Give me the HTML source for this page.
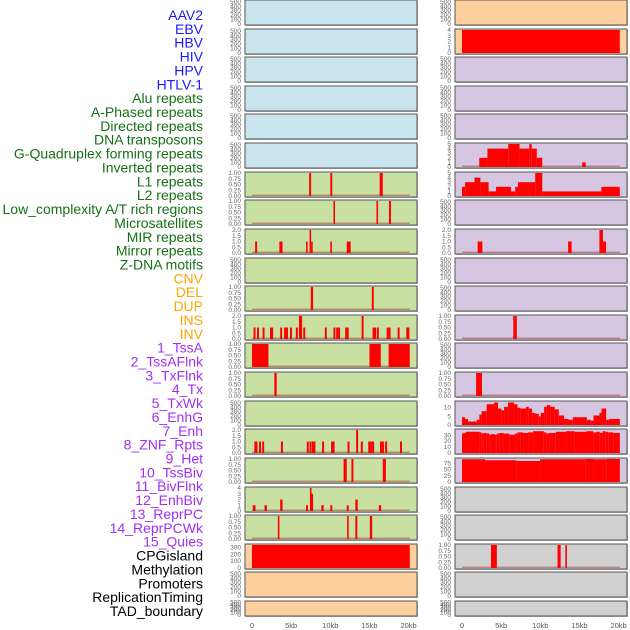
<!DOCTYPE html>
<html><head><meta charset="utf-8"><style>
html,body{margin:0;padding:0;background:#fff}
svg{display:block}
</style></head><body>
<svg id="chart" width="630" height="630" viewBox="0 0 630 630" xmlns="http://www.w3.org/2000/svg"></svg>
<script>
const labels = ["AAV2","EBV","HBV","HIV","HPV","HTLV-1","Alu repeats","A-Phased repeats","Directed repeats","DNA transposons","G-Quadruplex forming repeats","Inverted repeats","L1 repeats","L2 repeats","Low_complexity A/T rich regions","Microsatellites","MIR repeats","Mirror repeats","Z-DNA motifs","CNV","DEL","DUP","INS","INV","1_TssA","2_TssAFlnk","3_TxFlnk","4_Tx","5_TxWk","6_EnhG","7_Enh","8_ZNF_Rpts","9_Het","10_TssBiv","11_BivFlnk","12_EnhBiv","13_ReprPC","14_ReprPCWk","15_Quies","CPGisland","Methylation","Promoters","ReplicationTiming","TAD_boundary"];
const labelGroups = ["v","v","v","v","v","v","r","r","r","r","r","r","r","r","r","r","r","r","r","c","c","c","c","c","h","h","h","h","h","h","h","h","h","h","h","h","h","h","h","o","o","o","o","o"];
const xTickValues = [0,5,10,15,20];
const xTickLabels = ["0","5kb","10kb","15kb","20kb"];
const leftBg = ["b","b","b","b","b","b","g","g","g","g","g","g","g","g","g","g","g","g","g","o","o","o"];
const rightBg = ["o","o","p","p","p","p","p","p","p","p","p","p","p","p","p","p","p","e","e","e","e","e"];
const leftScale = ["E","E","E","E","E","E","U1","U1","U2","E","U1","U2","U1","U1","E","U2","U1","U4","U1","C","E","E"];
const rightScale = ["E","U4","E","E","E","U5","U5","E","U2","E","E","U1","E","U1","TX","ZN","TS","E","E","U1","E","E"];
// segments: [startKb, endKb, value]
const L6 = [[7.3,7.55,1],[10,10.25,1],[16.3,16.7,1]];
const L7 = [[10.4,10.6,1],[15.9,16.1,1],[17.5,17.75,1]];
const L8 = [[0.4,0.65,1],[3.5,3.9,1],[6.9,7.1,1],[7.35,7.55,2],[7.55,7.75,1],[10,10.2,1],[12.1,12.6,1]];
const L10 = [[7.5,7.8,1],[15.3,15.55,1]];
const L11starts = [0.2,0.65,1.35,2.3,2.45,3.6,4.1,4.35,4.85,5.6,6.0,6.15,6.55,9.3,10.4,10.75,11.0,11.9,12.1,14.0,15.4,15.6,15.95,17.2,17.45,18.6,19.7,19.85];
const L11values = [1,1,1,1,1,1,1,1,1,1,2,2,1,1,1,1,1,1,1,2,1,1,1,1,1,1,1,1];
const L12 = [[0,2.1,1],[15.0,16.45,1],[17.45,20.15,1]];
const L13 = [[2.85,3.15,1]];
const L15starts = [0.3,0.45,0.9,1.3,3.7,7.0,7.35,7.65,7.85,8.95,10.1,10.3,12.2,13.3,13.9,14.85,15.1,15.35,16.35,16.6,17.0,18.9];
const L15values = [1,1,1,1,1,1,1,1,1,1,1,1,1,2,1,1,1,1,1,1,1,1];
const L16 = [[11.7,12.1,1],[12.7,12.95,1],[16.7,17.1,1]];
const L17 = [[0.1,0.45,1],[1.6,1.9,1],[3.6,3.9,2],[6.9,7.15,1],[7.4,7.6,4],[7.6,7.8,3],[8.85,9.15,1],[10,10.25,1],[12.1,12.35,1],[13.2,13.5,2],[16.2,16.5,1]];
const L18 = [[3.3,3.5,1],[12.15,12.35,1],[13.2,13.45,1],[15.05,15.35,1]];
const L19 = [[0,20.15,340]];
const R1 = [[0,20.15,4]];
const R5 = [[2.2,3.25,2],[3.25,5.9,4],[5.9,7.35,5],[7.35,8.6,4],[8.6,8.9,5],[8.9,9.55,4],[9.55,10.25,2],[15.35,15.8,1]];
const R6 = [[0,0.4,2],[0.4,1.6,3],[1.6,2.35,4],[2.35,3.4,3],[3.4,4.35,1],[4.35,6.25,2],[6.25,6.8,1],[6.8,7.15,2],[7.15,9.35,3],[9.35,10.25,5],[10.25,17.8,1],[17.8,20.15,2]];
const R8 = [[2.0,2.6,1],[13.55,14.0,1],[17.55,18.0,2],[18.0,18.4,1]];
const R11 = [[6.55,7.0,1]];
const R13 = [[1.8,2.55,1]];
const R14edges = [0,0.38,0.77,1.88,2.22,2.51,3.15,4.09,4.6,5.03,5.37,5.88,6.65,7.08,7.5,8.18,8.53,8.95,9.38,9.8,10.06,10.49,10.83,11.25,11.85,12.36,13.04,13.64,14.15,15.94,16.45,16.79,17.56,17.82,18.41,18.76,20.16];
const R14values = [4.5,3.5,2,3,6,8,12,13,9.5,8.5,10.5,13,12,10,9.5,10.5,9.5,7,6.5,5,7,10.5,11.5,10.5,9,5.5,3.5,3,4.5,3,2.5,5.5,7,9.5,3,3.5];
const R15edges = [0,0.17,0.51,2.22,2.51,2.73,3.15,3.5,3.71,4.22,4.43,4.77,5.29,6.05,6.78,7.08,7.42,7.8,8.44,9.08,10.44,10.78,11.12,11.98,13.34,14.41,15.9,16.75,17.18,17.6,17.95,18.29,18.67,19.31,20.16];
const R15values = [33,34,36,35,33,34,33,31,32,31,33,34,33,31,33,35,35,34,35,37,35,33,34,36,37,36,37,35,36,34,37,36,35,34];
const R16edges = [0,2.94,6.99,9.97,15.73,16.79,18.5,20.16];
const R16values = [92,88,85,92,93,92,93];
const R19 = [[3.7,4.45,1],[12.2,12.6,1],[13.2,13.4,1]];

function toSegs(starts, vals, w){ return starts.map((s,i)=>[s,s+w,vals[i]]); }
function edgeSegs(edges, vals){ return vals.map((v,i)=>[edges[i],edges[i+1],v]); }
const leftData = {6:L6,7:L7,8:L8,10:L10,11:toSegs(L11starts,L11values,0.25),12:L12,13:L13,15:toSegs(L15starts,L15values,0.25),16:L16,17:L17,18:L18,19:L19};
const rightData = {1:R1,5:R5,6:R6,8:R8,11:R11,13:R13,14:edgeSegs(R14edges,R14values),15:edgeSegs(R15edges,R15values),16:edgeSegs(R16edges,R16values),19:R19};

const scales = {
 E:{max:520,ticks:[0,100,200,300,400,500],fmt:v=>String(v)},
 U1:{max:1,ticks:[0,0.25,0.5,0.75,1],fmt:v=>v.toFixed(2)},
 U2:{max:2,ticks:[0,0.5,1,1.5,2],fmt:v=>v.toFixed(1)},
 U4:{max:4,ticks:[0,1,2,3,4],fmt:v=>String(v)},
 U5:{max:5,ticks:[0,1,2,3,4,5],fmt:v=>String(v)},
 C:{max:340,ticks:[0,100,200,300],fmt:v=>String(v)},
 TX:{max:13.3,ticks:[0,5,10],fmt:v=>String(v)},
 ZN:{max:39,ticks:[0,10,20,30],fmt:v=>String(v)},
 TS:{max:93,ticks:[0,25,50,75],fmt:v=>String(v)}
};
const bgColors = {b:"#c9e4ec",g:"#c8e1a3",o:"#fdd09d",p:"#d6c6e2",e:"#d0d0d0"};
const labelColors = {v:"#1a1aff",r:"#167016",c:"#ffa500",h:"#a030f0",o:"#000000"};

const NS="http://www.w3.org/2000/svg";
const svg=document.getElementById("chart");
function mk(tag,attrs,parent){const e=document.createElementNS(NS,tag);for(const k in attrs)e.setAttribute(k,attrs[k]);(parent||svg).appendChild(e);return e;}

// labels
labels.forEach((t,i)=>{
  const e=mk("text",{x:203,y:(20+i*13.86).toFixed(1),"text-anchor":"end","font-family":"Liberation Sans, sans-serif","font-size":"14",fill:labelColors[labelGroups[i]]});
  e.textContent=t;
  
  
});

function panelY(p){return Math.round(p*28.62);}
function drawColumn(x0,bgs,scl,data,side){
  const w=172, kbPx=7.83, xStart=x0+7;
  const xs=kb=>xStart+kb*kbPx;
  for(let p=0;p<22;p++){
    const y0=panelY(p), h=(p===21)?15:25;
    const g=mk("g",{});
    
    
    mk("rect",{x:x0+1,y:y0+1,width:w,height:h,fill:"#bbb"},g);
    mk("rect",{x:x0,y:y0,width:w,height:h,fill:bgColors[bgs[p]],stroke:"#555","stroke-width":1},g);
    const sc=scales[scl[p]];
    const top=y0+1, bot=y0+h-1;
    const ys=v=>bot-(v/sc.max)*(bot-top);
    sc.ticks.forEach(v=>{
      const t=mk("text",{x:x0-4,y:(ys(v)+2).toFixed(1),"text-anchor":"end","font-family":"Liberation Sans, sans-serif","font-size":"6.5",fill:"#666"},g);
      t.textContent=sc.fmt(v);
      
      
    });
    const segs=data[p];
    if(segs){
      if(scl[p]!=="C" && scl[p]!=="U4" || side==="left") {
        const bl=mk("rect",{x:xs(0),y:bot-1.5,width:xs(20.15)-xs(0),height:1.5,fill:"rgba(170,40,40,0.45)"},g);
        
        
      }
      segs.forEach(s=>{
        const x1=xs(s[0]), x2=Math.max(xs(s[1]),x1+1.5);
        const r=mk("rect",{x:x1.toFixed(2),y:ys(s[2]).toFixed(2),width:(x2-x1).toFixed(2),height:(bot-ys(s[2])).toFixed(2),fill:"#ff0000"},g);
        
        
      });
    }
  }
  xTickValues.forEach((v,i)=>{
    const t=mk("text",{x:xs(v),y:628,"text-anchor":"middle","font-family":"Liberation Sans, sans-serif","font-size":"7.5",fill:"#555"});
    t.textContent=xTickLabels[i];
    
    
  });
}
drawColumn(245,leftBg,leftScale,leftData,"left");
drawColumn(455,rightBg,rightScale,rightData,"right");
</script>
</body></html>
